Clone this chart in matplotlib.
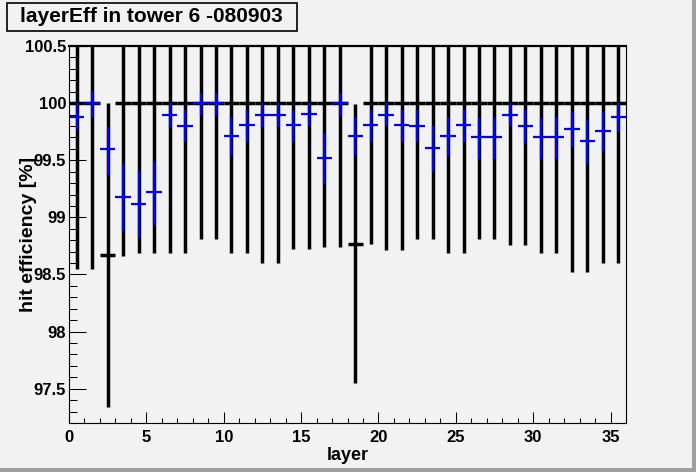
import matplotlib
matplotlib.use("Agg")
import matplotlib.pyplot as plt
from matplotlib.ticker import MultipleLocator
from matplotlib.patches import Rectangle

plt.rcParams['font.family'] = ['Liberation Sans', 'DejaVu Sans']
plt.rcParams['font.weight'] = 'bold'

layers = list(range(36))

# black series (large errors)
black_val = [100.0, 100.0, 98.67, 100.0, 100.0, 100.0, 100.0, 100.0, 100.0, 100.0,
             100.0, 100.0, 100.0, 100.0, 100.0, 100.0, 100.0, 100.0, 98.77, 100.0,
             100.0, 100.0, 100.0, 100.0, 100.0, 100.0, 100.0, 100.0, 100.0, 100.0,
             100.0, 100.0, 100.0, 100.0, 100.0, 100.0]
black_err = [1.454, 1.454, 1.33, 1.335, 1.314, 1.314, 1.31, 1.31, 1.19, 1.19,
             1.31, 1.31, 1.396, 1.396, 1.273, 1.273, 1.256, 1.256, 1.22, 1.232,
             1.29, 1.29, 1.19, 1.19, 1.31, 1.31, 1.19, 1.19, 1.241, 1.241,
             1.31, 1.31, 1.474, 1.474, 1.396, 1.396]

# blue series
blue_val = [99.88, 100.0, 99.60, 99.18, 99.12, 99.22, 99.90, 99.80, 100.0, 100.0,
            99.71, 99.81, 99.90, 99.90, 99.81, 99.905, 99.52, 100.0, 99.71, 99.81,
            99.90, 99.81, 99.80, 99.61, 99.71, 99.81, 99.70, 99.70, 99.90, 99.80,
            99.70, 99.70, 99.77, 99.67, 99.76, 99.88]
blue_lo = [0.11, 0.13, 0.23, 0.30, 0.30, 0.29, 0.11, 0.14, 0.10, 0.10,
           0.17, 0.15, 0.11, 0.11, 0.15, 0.105, 0.23, 0.11, 0.165, 0.15,
           0.10, 0.15, 0.14, 0.20, 0.17, 0.15, 0.19, 0.19, 0.10, 0.15,
           0.19, 0.19, 0.155, 0.20, 0.18, 0.13]
blue_hi = [0.12, 0.11, 0.19, 0.29, 0.29, 0.27, 0.10, 0.14, 0.09, 0.09,
           0.17, 0.13, 0.10, 0.10, 0.13, 0.095, 0.21, 0.09, 0.165, 0.13,
           0.10, 0.13, 0.14, 0.19, 0.17, 0.13, 0.17, 0.17, 0.10, 0.14,
           0.17, 0.17, 0.155, 0.18, 0.165, 0.12]

x = [l + 0.5 for l in layers]
bg = '#f2f2f2'

fig = plt.figure(figsize=(6.96, 4.72), dpi=100, facecolor=bg)
ax = fig.add_axes([69/696, 49/472, 557/696, 377/472])
ax.set_facecolor(bg)

ax.errorbar(x, black_val, yerr=black_err, xerr=0.5, fmt='none',
            ecolor='black', elinewidth=2.5, capsize=0)
ax.errorbar(x, blue_val, yerr=[blue_lo, blue_hi], xerr=0.5, fmt='none',
            ecolor='#0000ff', elinewidth=1.6, capsize=0)

ax.set_xlim(0, 36)
ax.set_ylim(97.2, 100.5)

ax.xaxis.set_major_locator(MultipleLocator(5))
ax.xaxis.set_minor_locator(MultipleLocator(1))
ax.yaxis.set_major_locator(MultipleLocator(0.5))
ax.yaxis.set_minor_locator(MultipleLocator(0.1))
ax.yaxis.set_major_formatter(plt.FuncFormatter(lambda v, p: f"{v:g}"))

ax.tick_params(axis='y', which='major', direction='in', length=12.2, width=0.75,
               labelsize=12, pad=2)
ax.tick_params(axis='y', which='minor', direction='in', length=5.8, width=0.75)
ax.tick_params(axis='x', which='major', direction='in', length=7.9, width=0.75,
               labelsize=12, pad=5)
ax.tick_params(axis='x', which='minor', direction='in', length=3.6, width=0.75)
ax.tick_params(top=False, right=False)

for s in ['left', 'bottom', 'right']:
    ax.spines[s].set_linewidth(0.8)
ax.spines['top'].set_linewidth(1.6)

ax.set_xlabel('layer', fontsize=13, fontweight='bold')
ax.set_ylabel('hit efficiency [%]', fontsize=14, fontweight='bold')
ax.xaxis.set_label_coords(0.5, -0.064)
ax.yaxis.set_label_coords(-0.058, 0.5)

# title box
fig.add_artist(Rectangle((7/696, 1 - 31/472), 290/696, 28/472, transform=fig.transFigure,
                         facecolor=bg, edgecolor='black', linewidth=1.2))
fig.text(20/696, 1 - 17/472, 'layerEff in tower 6 -080903', fontsize=15,
         fontweight='bold', ha='left', va='center')

# canvas bevel
fig.add_artist(Rectangle((0, 0), 1, 4/472, transform=fig.transFigure,
                         facecolor='#a0a0a0', edgecolor='none'))
fig.add_artist(Rectangle((1 - 4/696, 0), 4/696, 1, transform=fig.transFigure,
                         facecolor='#a0a0a0', edgecolor='none'))

fig.savefig('out.png', dpi=100, facecolor=bg)
